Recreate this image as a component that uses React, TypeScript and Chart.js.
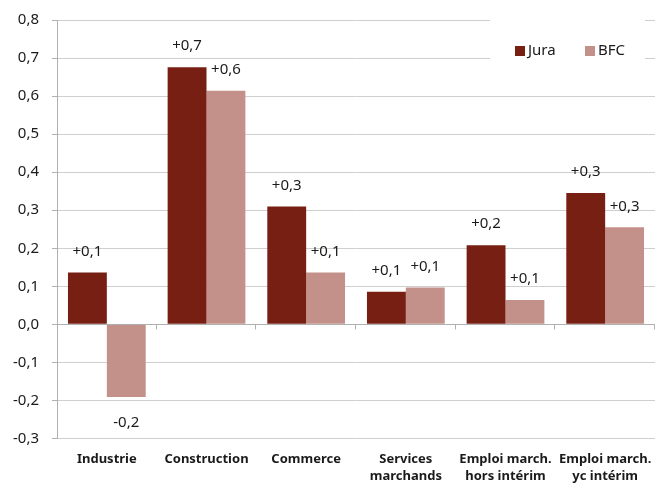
import React, { useEffect, useRef } from "react";
import { Chart, registerables } from "chart.js";

Chart.register(...registerables);

const categories: (string | string[])[] = [
  "Industrie",
  "Construction",
  "Commerce",
  ["Services", "marchands"],
  ["Emploi march.", "hors intérim"],
  ["Emploi march.", "yc intérim"],
];
const juraValues = [0.136, 0.676, 0.31, 0.086, 0.208, 0.345];
const bfcValues = [-0.191, 0.614, 0.136, 0.097, 0.064, 0.255];
const seriesNames = ["Jura", "BFC"];
const seriesColors = ["#771f13", "#c3918a"];
const yMin = -0.3;
const yMax = 0.8;
const yStep = 0.1;

const FONT = "'Noto Sans', sans-serif";

const fmtTick = (v: number) => v.toFixed(1).replace(".", ",").replace("-0,0", "0,0");
const fmtLabel = (v: number) => (v >= 0 ? "+" : "-") + Math.abs(v).toFixed(1).replace(".", ",");

const legendPlugin = {
  id: "boxLegend",
  beforeDatasetsDraw(chart: any) {
    const { ctx, chartArea } = chart;
    const right = chartArea.right - 10;
    const left = right - 155;
    const top = chartArea.top - 1;
    const bottom = chartArea.top + 39.5;
    ctx.save();
    ctx.fillStyle = "#ffffff";
    ctx.fillRect(left, top, right - left, bottom - top);
    const cy = chartArea.top + 31;
    ctx.font = `15px ${FONT}`;
    ctx.textBaseline = "middle";
    ctx.textAlign = "left";
    const starts = [left + 25, left + 95];
    seriesNames.forEach((name, i) => {
      ctx.fillStyle = seriesColors[i];
      ctx.fillRect(starts[i], cy - 5, 10, 10);
      ctx.fillStyle = "#1a1a1a";
      ctx.fillText(name, starts[i] + 13, cy);
    });
    ctx.restore();
  },
};

const zeroTicksPlugin = {
  id: "zeroTicks",
  afterDatasetsDraw(chart: any) {
    const { ctx, chartArea, scales } = chart;
    const y0 = Math.round(scales.y.getPixelForValue(0)) + 0.5;
    const n = categories.length;
    const w = (chartArea.right - chartArea.left) / n;
    ctx.save();
    ctx.strokeStyle = "#b0b0b0";
    ctx.lineWidth = 1;
    ctx.beginPath();
    ctx.moveTo(chartArea.left, y0);
    ctx.lineTo(chartArea.right, y0);
    ctx.stroke();
    for (let i = 1; i <= n; i++) {
      const x = Math.round(chartArea.left + i * w) - 0.5;
      ctx.beginPath();
      ctx.moveTo(x, y0);
      ctx.lineTo(x, y0 + 5);
      ctx.stroke();
    }
    ctx.restore();
  },
};

const valueLabelsPlugin = {
  id: "valueLabels",
  afterDatasetsDraw(chart: any) {
    const { ctx } = chart;
    ctx.save();
    ctx.font = `15px ${FONT}`;
    ctx.fillStyle = "#1a1a1a";
    ctx.textAlign = "center";
    ctx.textBaseline = "middle";
    chart.data.datasets.forEach((ds: any, di: number) => {
      const meta = chart.getDatasetMeta(di);
      meta.data.forEach((el: any, i: number) => {
        const v = ds.data[i] as number;
        const y = v >= 0 ? el.y - 21 : el.y + 26;
        ctx.fillText(fmtLabel(v), el.x, y);
      });
    });
    ctx.restore();
  },
};

export default function App() {
  const canvasRef = useRef<HTMLCanvasElement | null>(null);

  useEffect(() => {
    if (!canvasRef.current) return;
    const chart = new Chart(canvasRef.current, {
      type: "bar",
      data: {
        labels: categories,
        datasets: [
          {
            label: seriesNames[0],
            data: juraValues,
            backgroundColor: seriesColors[0],
            borderWidth: 0,
          },
          {
            label: seriesNames[1],
            data: bfcValues,
            backgroundColor: seriesColors[1],
            borderWidth: 0,
          },
        ],
      },
      options: {
        responsive: false,
        animation: false,
        devicePixelRatio: 1,
        layout: { padding: { top: 20, right: 1, left: 0, bottom: 0 } },
        datasets: {
          bar: { categoryPercentage: 0.78, barPercentage: 1 },
        },
        plugins: {
          legend: { display: false },
          tooltip: { enabled: false },
          title: { display: false },
        },
        scales: {
          x: {
            grid: { display: false, drawTicks: false },
            border: { display: false },
            ticks: {
              autoSkip: false,
              maxRotation: 0,
              minRotation: 0,
              padding: 13,
              color: "#1a1a1a",
              font: { family: FONT, size: 13, weight: "bold", lineHeight: 1.25 },
            },
            afterFit(scale: any) {
              scale.height = 47.5;
              scale.paddingLeft = 0;
              scale.paddingRight = 0;
            },
          },
          y: {
            min: yMin,
            max: yMax,
            ticks: {
              stepSize: yStep,
              padding: 13,
              color: "#1a1a1a",
              font: { family: FONT, size: 15 },
              callback: (v: any) => fmtTick(Number(v)),
            },
            grid: {
              color: (c: any) =>
                c.tick && Math.abs(c.tick.value) < 1e-9 ? "#b0b0b0" : "#cfcfcf",
              lineWidth: 1,
              tickLength: 5,
              tickColor: "#b0b0b0",
            },
            border: { display: true, color: "#b0b0b0", width: 1 },
            afterFit(scale: any) {
              scale.width = 57;
              scale.paddingTop = 0;
              scale.paddingBottom = 0;
            },
          },
        },
      },
      plugins: [legendPlugin, zeroTicksPlugin, valueLabelsPlugin],
    } as any);
    return () => chart.destroy();
  }, []);

  return (
    <div style={{ position: "absolute", left: 0, top: 0, width: 656, height: 486, background: "#fff" }}>
      <canvas ref={canvasRef} width={656} height={486} />
    </div>
  );
}
